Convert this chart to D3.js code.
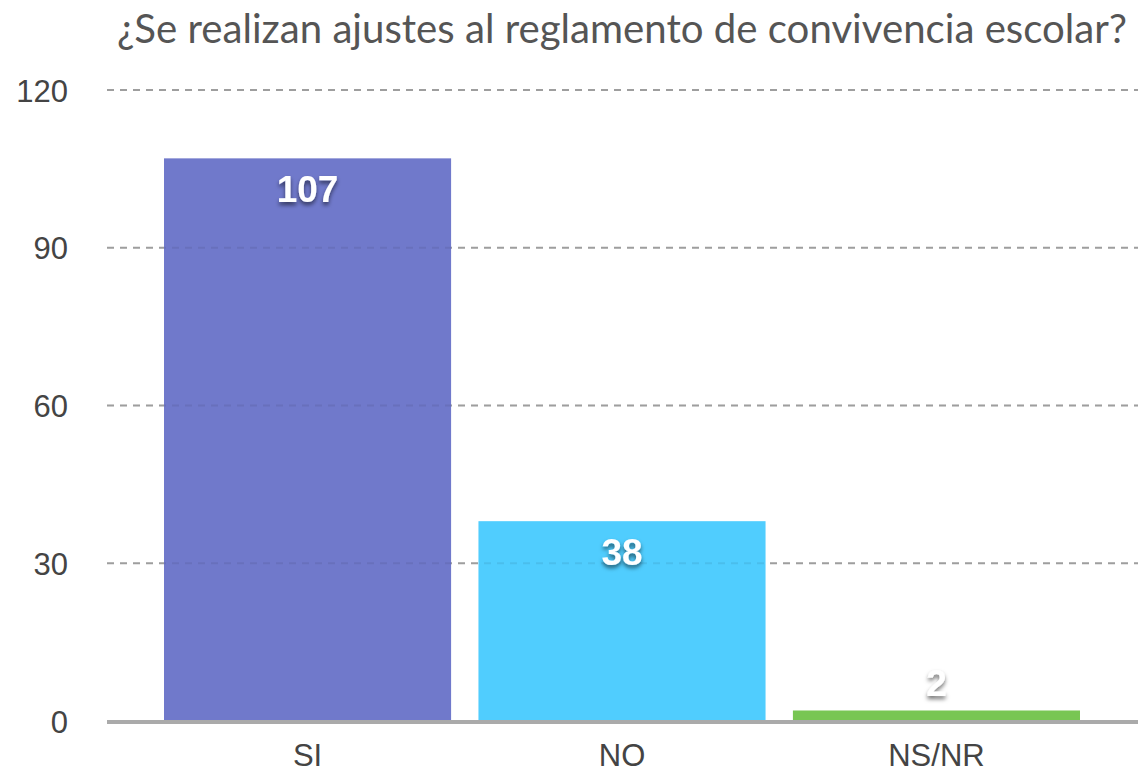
<!DOCTYPE html>
<html>
<head>
<meta charset="utf-8">
<script src="https://cdn.jsdelivr.net/npm/d3@7"></script>
<style>
  html, body { margin: 0; padding: 0; background: #fff; }
  svg { display: block; }
</style>
</head>
<body>
<svg id="chart" width="1138" height="775"></svg>
<script>
const title = "¿Se realizan ajustes al reglamento de convivencia escolar?";
const categories = ["SI", "NO", "NS/NR"];
const values = [107, 38, 2];
const colors = ["#7079cb", "#50cdfe", "#78c653"];
const yTicks = [0, 30, 60, 90, 120];

const svg = d3.select("#chart");
const W = 1138, H = 775;

const x = d3.scaleBand().domain(categories).range([164, 1080]).paddingInner(0.087).paddingOuter(0);
const y = d3.scaleLinear().domain([0, 120]).range([721, 90]);

// drop shadow filter
const defs = svg.append("defs");
const f = defs.append("filter").attr("id", "shadow").attr("x", "-30%").attr("y", "-30%").attr("width", "160%").attr("height", "180%");
f.append("feDropShadow").attr("dx", 0).attr("dy", 3).attr("stdDeviation", 2.2)
  .attr("flood-color", "#000").attr("flood-opacity", 0.55);

// title
const t = svg.append("text")
  .attr("x", 622).attr("y", 43)
  .attr("text-anchor", "middle")
  .attr("font-family", "Lato, sans-serif")
  .attr("font-size", 36)
  .attr("fill", "#555")
  .text(title);
const tw = t.node().getComputedTextLength();
t.attr("font-size", 36 * 1010 / tw);

// gridlines (under bars)
const gridG = svg.append("g");
gridG.selectAll("line").data(yTicks.filter(d => d > 0)).join("line")
  .attr("x1", 107).attr("x2", W)
  .attr("y1", d => y(d)).attr("y2", d => y(d))
  .attr("stroke", "#aaa").attr("stroke-width", 2)
  .attr("stroke-dasharray", "7,6");

// bars
svg.append("g").selectAll("rect").data(values).join("rect")
  .attr("x", (d, i) => x(categories[i]))
  .attr("width", x.bandwidth())
  .attr("y", d => y(d))
  .attr("height", d => y(0) - y(d))
  .attr("fill", (d, i) => colors[i]);

// faint gridlines over bars
svg.append("g").selectAll("line").data(yTicks.filter(d => d > 0)).join("line")
  .attr("x1", 107).attr("x2", W)
  .attr("y1", d => y(d)).attr("y2", d => y(d))
  .attr("stroke", "#000").attr("stroke-opacity", 0.07).attr("stroke-width", 2)
  .attr("stroke-dasharray", "7,6");

// baseline axis
svg.append("line")
  .attr("x1", 107).attr("x2", W)
  .attr("y1", 722).attr("y2", 722)
  .attr("stroke", "#aaa").attr("stroke-width", 4);

// y axis labels
const yAxis = d3.axisLeft(y).tickValues(yTicks).tickSize(0).tickPadding(0);
const yg = svg.append("g").attr("transform", "translate(68,0)").call(yAxis);
yg.select(".domain").remove();
yg.selectAll("text")
  .attr("font-family", "'Liberation Sans', Arial, sans-serif")
  .attr("font-size", 31)
  .attr("fill", "#444")
  .attr("dy", "0.36em");

// x axis labels
const xAxis = d3.axisBottom(x).tickSize(0).tickPadding(0);
const xg = svg.append("g").attr("transform", "translate(0,766)").call(xAxis);
xg.select(".domain").remove();
xg.selectAll("text")
  .attr("font-family", "'Liberation Sans', Arial, sans-serif")
  .attr("font-size", 31)
  .attr("fill", "#444")
  .attr("dy", 0)
  .attr("y", 0);

// value labels
svg.append("g").selectAll("text").data(values).join("text")
  .attr("x", (d, i) => x(categories[i]) + x.bandwidth() / 2)
  .attr("y", d => (y(0) - y(d) > 60) ? y(d) + 44 : y(d) - 14)
  .attr("text-anchor", "middle")
  .attr("font-family", "'Liberation Sans', Arial, sans-serif")
  .attr("font-weight", "bold")
  .attr("font-size", 37)
  .attr("fill", "#fff")
  .attr("filter", "url(#shadow)")
  .text(d => d);
</script>
</body>
</html>
